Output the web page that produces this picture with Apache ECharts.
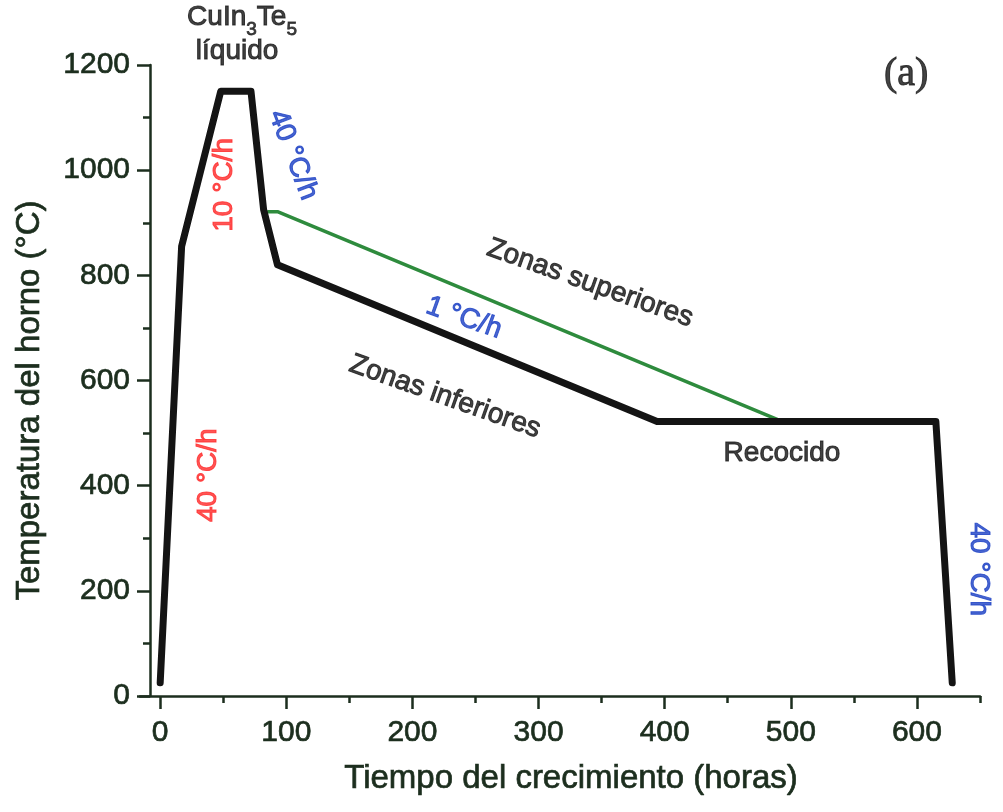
<!DOCTYPE html>
<html><head><meta charset="utf-8">
<script src="https://cdn.jsdelivr.net/npm/echarts@6/dist/echarts.min.js"></script>
<style>html,body{margin:0;padding:0;background:#fff}#c{width:1003px;height:812px}</style>
</head><body><div id="c"></div>
<script>
// ---- data ----
const lowerTime = [0, 17, 48, 72, 82, 93, 394, 615, 628];
const lowerTemp = [25, 855, 1150, 1150, 925, 820, 522, 522, 25];
const upperTime = [85.5, 93, 492];
const upperTemp = [921, 921, 523];
const xMajorTicks = [0, 100, 200, 300, 400, 500, 600];
const xMinorTicks = [50, 150, 250, 350, 450, 550, 650];
const xTitle = 'Tiempo del crecimiento (horas)';
const yTitle = 'Temperatura del horno (°C)';
// annotations (text, anchor in data units: hours, °C)
const noteText = ['CuIn3Te5', 'líquido', '(a)', '10 °C/h', '40 °C/h', 'Zonas superiores', '1 °C/h', 'Zonas inferiores', 'Recocido', '40 °C/h', '40 °C/h'];
const noteX = [64.9, 61, 591.5, 50.6, 105.3, 340.8, 240.8, 225.8, 493, 38, 648.6];
const noteY = [1284, 1227, 1181, 972, 1029, 785, 719, 569, 462, 420, 241];

// ---- styles ----
const INK = '#1c2e1e', RED = '#ff2a2a', BLUE = '#1c40c4', BLACK = '#141414';
const FONT = '"Liberation Sans", Arial, sans-serif';
const noteStyle = [
  {color: BLACK, rotate: 0, rich: true},
  {color: BLACK, rotate: 0},
  {color: BLACK, rotate: 0, fontFamily: '"Liberation Serif", "Times New Roman", serif', fontSize: 40},
  {color: RED, rotate: 90},
  {color: BLUE, rotate: -69},
  {color: BLACK, rotate: -19.5},
  {color: BLUE, rotate: -19.5},
  {color: BLACK, rotate: -19.5},
  {color: BLACK, rotate: 0},
  {color: RED, rotate: 90},
  {color: BLUE, rotate: -90}
];
function richFormula(t) {
  return t.replace(/([A-Za-z]+)|(\d+)/g, (m, a, d) => a ? '{n|' + a + '}' : '{s|' + d + '}');
}
const noteSeries = noteText.map((t, i) => {
  const st = noteStyle[i];
  const label = {
    show: true, position: 'inside', rotate: st.rotate,
    color: st.color, fontFamily: st.fontFamily || FONT, fontSize: st.fontSize || 28,
    textBorderColor: st.color, textBorderWidth: 1,
    align: 'center', verticalAlign: 'middle',
    formatter: st.rich ? richFormula(t) : t
  };
  if (st.rich) {
    label.rich = {
      n: {fontSize: 28, verticalAlign: 'top', color: st.color, fontFamily: FONT, textBorderColor: st.color, textBorderWidth: 1},
      s: {fontSize: 19, verticalAlign: 'top', padding: [17, 0, 0, 0], color: st.color, fontFamily: FONT, textBorderColor: st.color, textBorderWidth: 0.8}
    };
  }
  return {
    type: 'scatter', silent: true, clip: false, symbolSize: 1,
    itemStyle: {color: 'rgba(0,0,0,0)'}, z: 5,
    data: [[noteX[i], noteY[i]]], label
  };
});

const chart = echarts.init(document.getElementById('c'), null, {renderer: 'canvas'});
const axisLineStyle = {color: INK, width: 2.5};
const tickText = {color: INK, fontSize: 30, fontFamily: FONT, textBorderColor: INK, textBorderWidth: 0.7};
chart.setOption({
  animation: false,
  backgroundColor: '#fff',
  grid: {left: 140, right: 23, top: 65, bottom: 116, containLabel: false},
  xAxis: [{
    type: 'value', position: 'bottom', min: -16, max: 650,
    axisLine: {show: true, onZero: false, lineStyle: axisLineStyle},
    axisTick: {show: true, inside: false, length: 13, customValues: xMajorTicks, lineStyle: {color: INK, width: 2.5}},
    axisLabel: Object.assign({show: true, customValues: xMajorTicks, margin: 22, formatter: v => String(v)}, tickText),
    splitLine: {show: false},
    name: xTitle, nameLocation: 'middle', nameGap: 66,
    nameTextStyle: {color: INK, fontSize: 33, fontFamily: FONT, textBorderColor: INK, textBorderWidth: 0.7, padding: [0, 0, 0, 22]}
  }, {
    type: 'value', position: 'bottom', min: -16, max: 650,
    axisLine: {show: false, onZero: false},
    axisTick: {show: true, inside: false, length: 7, customValues: xMinorTicks, lineStyle: {color: INK, width: 2.5}},
    axisLabel: {show: false},
    splitLine: {show: false}
  }],
  yAxis: {
    type: 'value', min: 0, max: 1200, interval: 200, offset: -10,
    axisLine: {show: true, onZero: false, lineStyle: axisLineStyle},
    axisTick: {show: true, inside: false, length: 13, lineStyle: {color: INK, width: 2.5}},
    minorTick: {show: true, splitNumber: 2, length: 7, lineStyle: {color: INK, width: 2.5}},
    axisLabel: Object.assign({margin: 20, formatter: v => String(v)}, tickText),
    splitLine: {show: false}, minorSplitLine: {show: false},
    name: yTitle, nameLocation: 'middle', nameGap: 104, nameRotate: 90,
    nameTextStyle: {color: INK, fontSize: 33, fontFamily: FONT, textBorderColor: INK, textBorderWidth: 0.7, padding: [0, 40, 0, 0]}
  },
  series: [{
    type: 'line', name: 'Zonas superiores', symbol: 'none', z: 2,
    data: upperTime.map((t, i) => [t, upperTemp[i]]),
    lineStyle: {color: '#2e8b3d', width: 3.5, join: 'round', cap: 'round'}
  }, {
    type: 'line', name: 'Zonas inferiores', symbol: 'none', z: 3,
    data: lowerTime.map((t, i) => [t, lowerTemp[i]]),
    lineStyle: {color: BLACK, width: 7, join: 'round', cap: 'round'}
  }].concat(noteSeries)
});
</script></body></html>
